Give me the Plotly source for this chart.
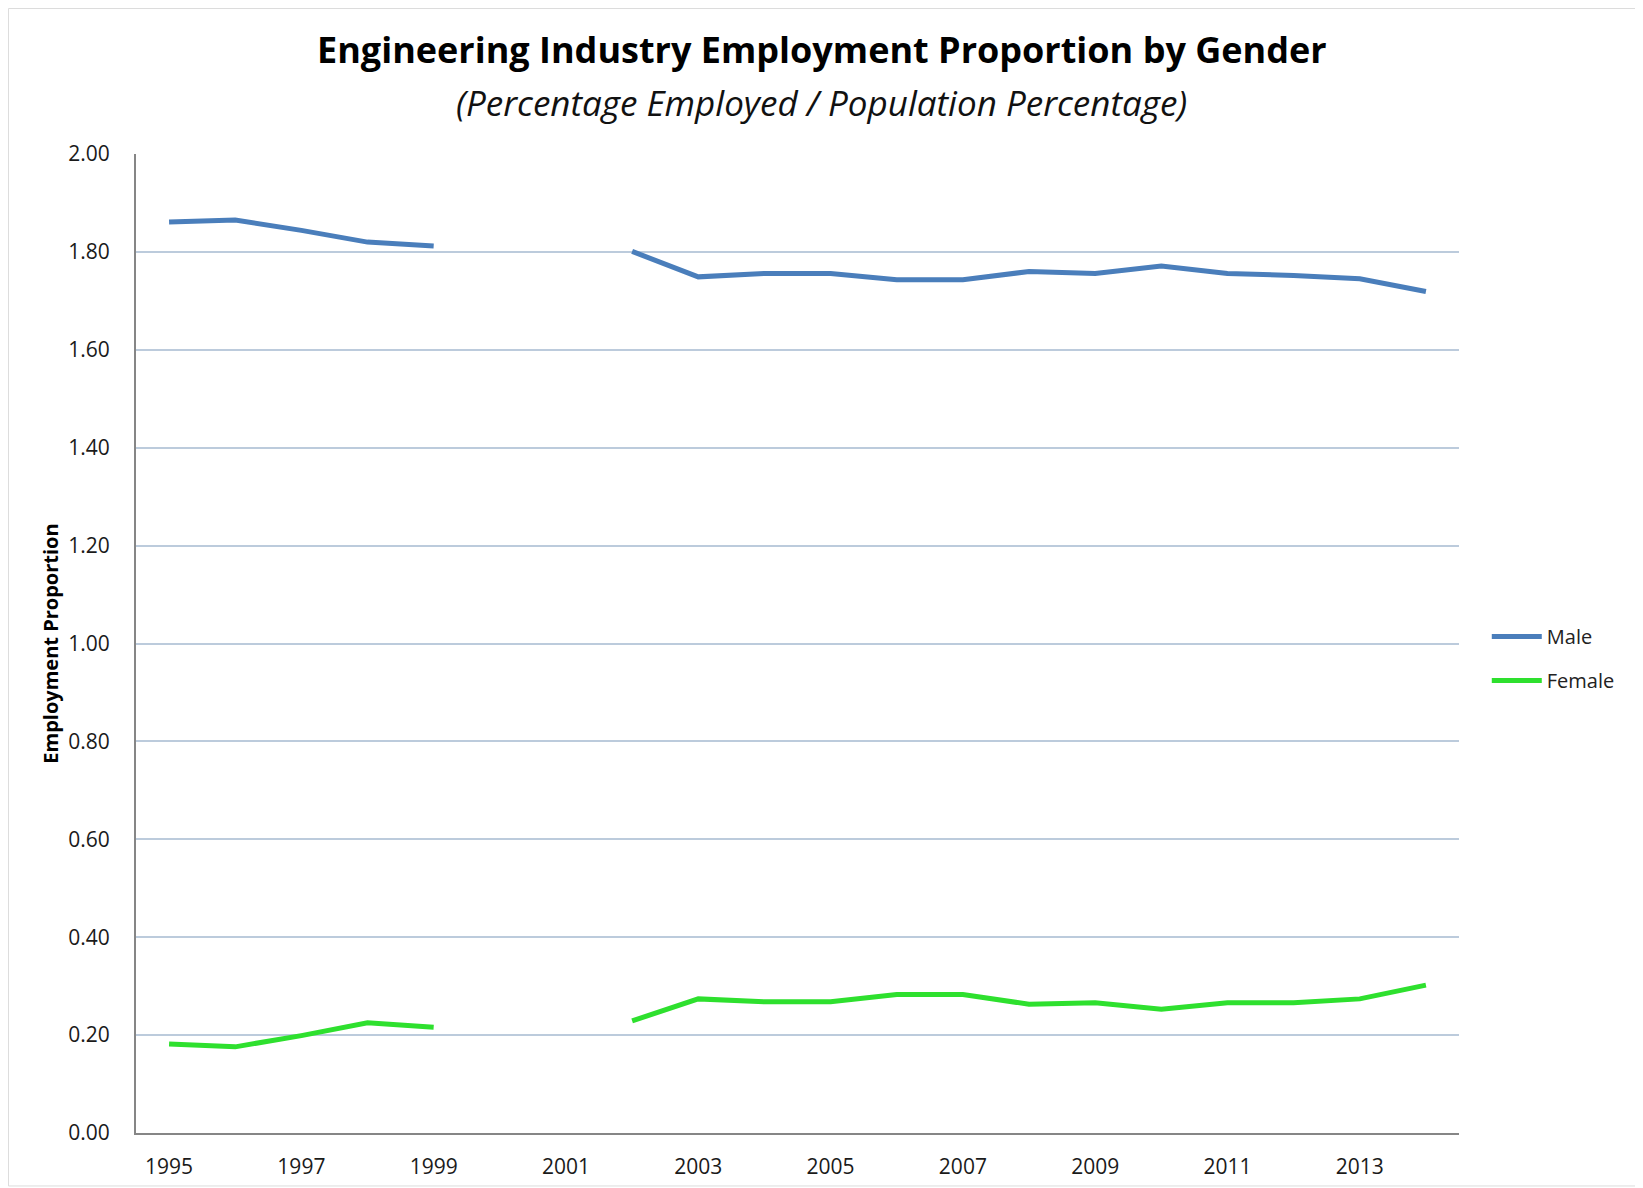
import plotly.graph_objects as go

# values (2000 and 2001 are gaps)
years = list(range(1995, 2015))
male = [1.861, 1.865, 1.844, 1.820, 1.812, None, None, 1.801, 1.749, 1.756,
        1.756, 1.743, 1.743, 1.760, 1.756, 1.771, 1.756, 1.752, 1.745, 1.719]
female = [0.182, 0.176, 0.199, 0.225, 0.216, None, None, 0.229, 0.274, 0.268,
          0.268, 0.283, 0.283, 0.263, 0.266, 0.253, 0.266, 0.266, 0.274, 0.302]
y_ticks = [0.0, 0.2, 0.4, 0.6, 0.8, 1.0, 1.2, 1.4, 1.6, 1.8, 2.0]

FONT = "Open Sans"
MALE_COLOR = "#4a7ebb"
FEMALE_COLOR = "#2ee02e"

fig = go.Figure()
fig.add_trace(go.Scatter(x=years, y=male, name="Male", mode="lines", legendgroup="m",
                         line=dict(color=MALE_COLOR, width=5), connectgaps=False))
fig.add_trace(go.Scatter(x=years, y=female, name="Female", mode="lines", legendgroup="f",
                         line=dict(color=FEMALE_COLOR, width=5), connectgaps=False))

# page body adds an 8px offset, so margins are pulled in by 8px
fig.update_layout(
    width=1643, height=1188,
    paper_bgcolor="white", plot_bgcolor="white",
    margin=dict(l=128, r=192, t=146, b=63),
    font=dict(family=FONT, color="#222222"),
    showlegend=True,
    legend=dict(x=1.021, y=0.4846, xanchor="left", yanchor="middle",
                font=dict(family=FONT, size=20, color="#222222"),
                bgcolor="rgba(0,0,0,0)", tracegroupgap=15, itemwidth=50),
    annotations=[
        dict(text="<b>Engineering Industry Employment Proportion by Gender</b>",
             xref="paper", yref="paper", x=0.5185, y=1.1063, xanchor="center", yanchor="middle",
             showarrow=False, font=dict(family=FONT, size=36, color="#000000")),
        dict(text="<i>(Percentage Employed / Population Percentage)</i>",
             xref="paper", yref="paper", x=0.5185, y=1.0531, xanchor="center", yanchor="middle",
             showarrow=False, font=dict(family=FONT, size=35, color="#111111")),
    ],
    shapes=[dict(type="rect", xref="paper", yref="paper", x0=-0.0964, x1=1.1368,
                 y0=-0.0541, y1=1.1486, line=dict(color="#dcdcdc", width=1), layer="below")],
)

fig.update_xaxes(
    range=[1994.5, 2014.5], tick0=1995, dtick=2, showgrid=False,
    showline=True, linecolor="#868686", linewidth=2, ticks="", zeroline=False,
    tickfont=dict(family=FONT, size=21, color="#1a1a1a"), ticklabelstandoff=14,
)
fig.update_yaxes(
    range=[0, 2.0], tickvals=y_ticks, tickformat=".2f",
    showgrid=True, gridcolor="#bccbdc", gridwidth=1.5, zeroline=False,
    showline=True, linecolor="#868686", linewidth=2, ticks="",
    tickfont=dict(family=FONT, size=21, color="#1a1a1a"), ticklabelstandoff=20,
    title=dict(text="<b>Employment Proportion</b>", standoff=4,
               font=dict(family=FONT, size=20, color="#000000")),
)

fig.write_html("out.html")
